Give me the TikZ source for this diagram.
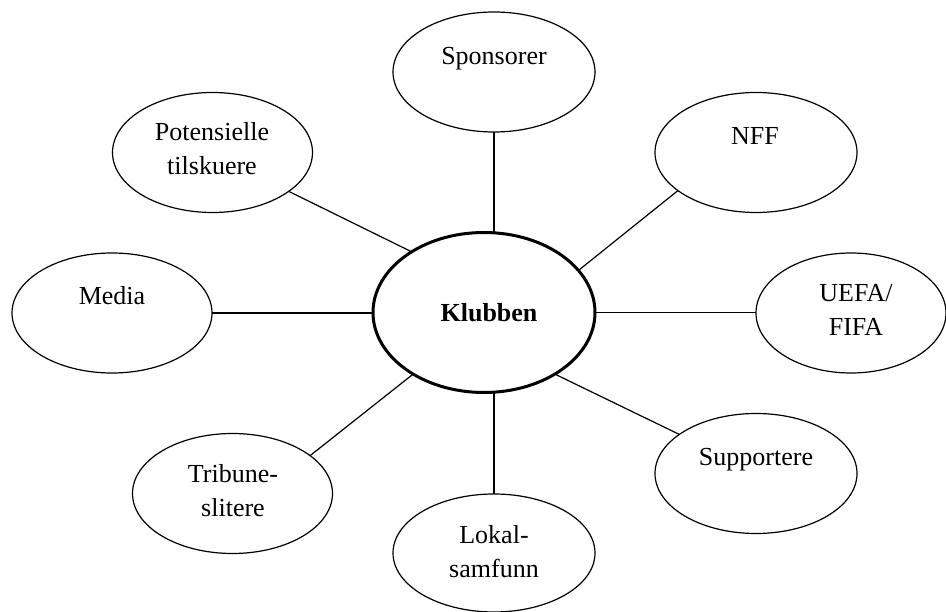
\documentclass[tikz,border=0pt]{standalone}
\usepackage{fontspec}
\setmainfont{Liberation Serif}
\usetikzlibrary{shapes.geometric}
\begin{document}
\begin{tikzpicture}[x=1pt,y=-1pt,
  actor/.style={draw=black,line width=1.2pt,ellipse,inner sep=0pt,outer sep=0pt,fill=white},
  hub/.style={draw=black,line width=3pt,ellipse,inner sep=0pt,outer sep=0pt,fill=white,
    minimum width=222pt,minimum height=160pt},
  lbl/.style={font=\fontsize{26}{34}\selectfont,inner sep=0pt,anchor=base,align=center},
  link/.style={draw=black,line width=1.2pt}]
\useasboundingbox (0,0) rectangle (946,612);

% ellipses
\node[hub] (klub) at (484,312.5) {};
\node[actor,minimum width=202pt,minimum height=120pt] (spon) at (494,72) {};
\node[actor,minimum width=202pt,minimum height=120pt] (nff) at (756,152.5) {};
\node[actor,minimum width=200pt,minimum height=120pt] (pot) at (212.5,152.5) {};
\node[actor,minimum width=200pt,minimum height=120pt] (media) at (112,313) {};
\node[actor,minimum width=190pt,minimum height=120pt] (uefa) at (851,313) {};
\node[actor,minimum width=202pt,minimum height=120pt] (supp) at (756,473.5) {};
\node[actor,minimum width=202pt,minimum height=118pt] (lokal) at (494,553) {};
\node[actor,minimum width=200pt,minimum height=120pt] (trib) at (232.5,493.5) {};

% labels (for two-line labels the base anchor sits on the last line)
\node[lbl,font=\fontsize{26}{34}\selectfont\bfseries] (tklub) at (489,322) {Klubben};
\node[lbl] (tspon) at (494,65) {Sponsorer};
\node[lbl] (tnff) at (755,145) {NFF};
\node[lbl] (tpot) at (212,175) {Potensielle\\tilskuere};
\node[lbl] (tmedia) at (112,305) {Media};
\node[lbl] (tuefa) at (856,336) {UEFA/\\FIFA};
\node[lbl] (tsupp) at (756,466) {Supportere};
\node[lbl] (tlokal) at (494,577) {Lokal-\\samfunn};
\node[lbl] (ttrib) at (233,516) {Tribune-\\slitere};

% connectors
\draw[link] (spon.south) -- (spon.south |- klub.north);
\draw[link] (lokal.north) -- (lokal.north |- klub.south);
\draw[link] (media.east) -- (media.east -| klub.west);
\draw[link] (klub.east) -- (klub.east -| uefa.west);
\draw[link] (nff.206.9) -- (klub.24.6);
\draw[link] (pot.333) -- (klub.140);
\draw[link] (trib.26.7) -- (klub.221);
\draw[link] (supp.153.1) -- (klub.319.8);
\end{tikzpicture}
\end{document}
